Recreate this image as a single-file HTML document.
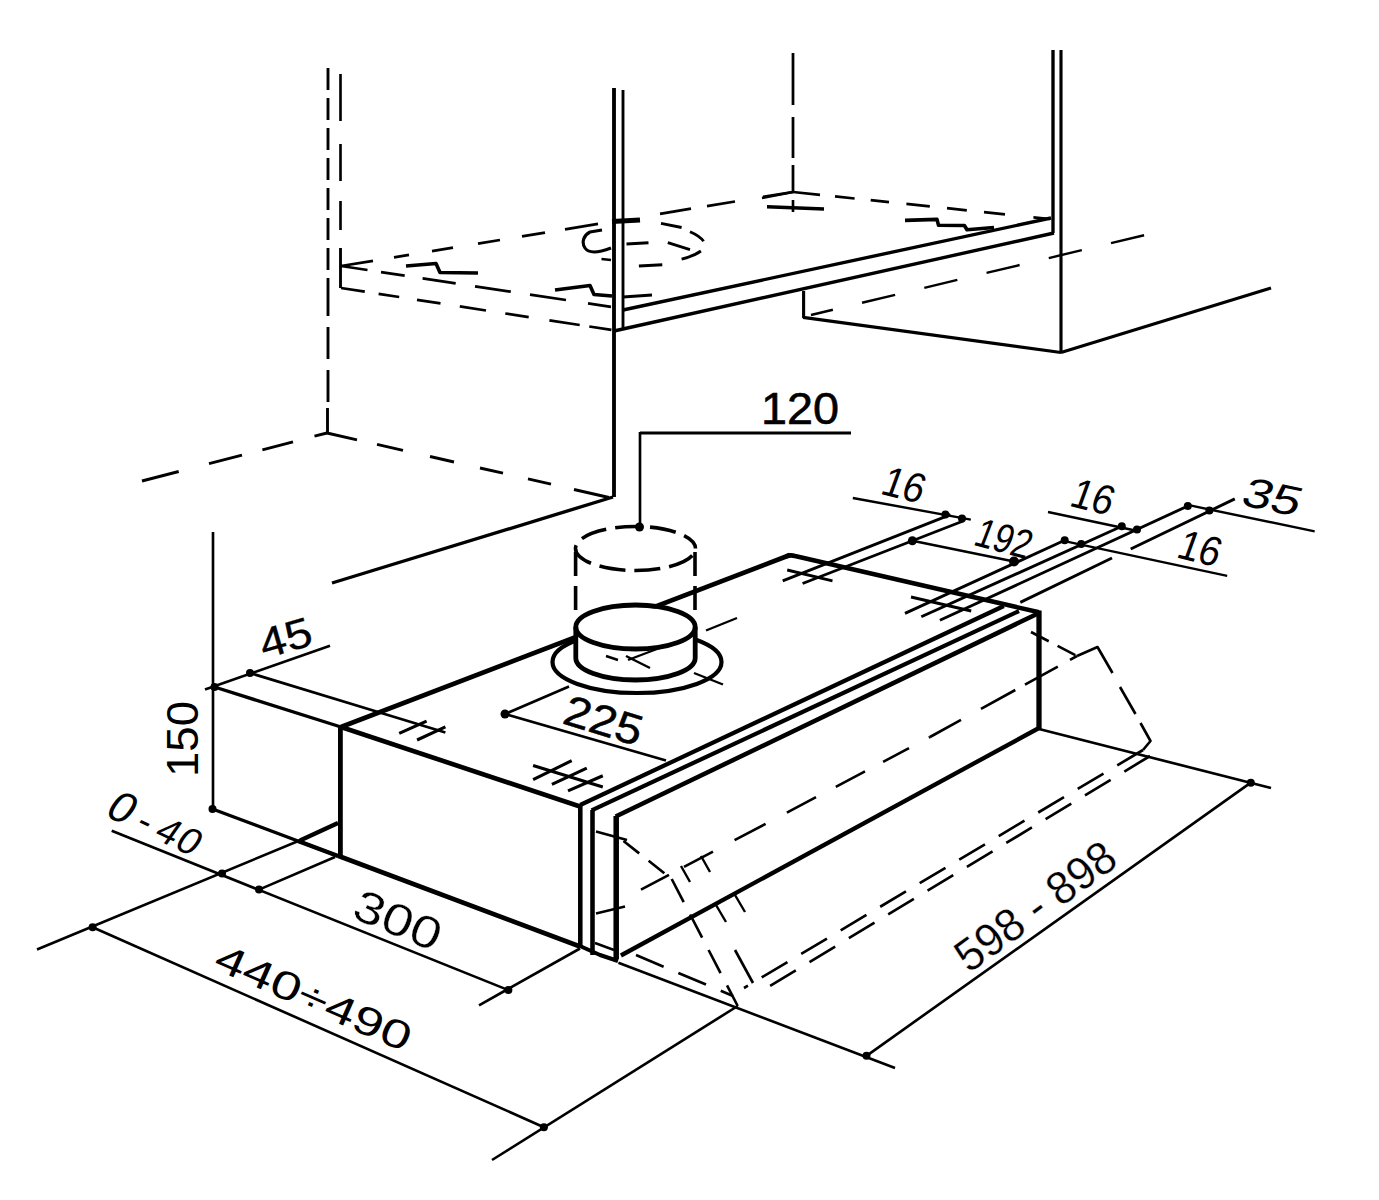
<!DOCTYPE html>
<html lang="en">
<head>
<meta charset="utf-8">
<title>Hood installation dimensions</title>
<style>
html,body{margin:0;padding:0;background:#fff;}
body{width:1379px;height:1200px;overflow:hidden;}
svg{display:block;}
svg line,svg path,svg ellipse{stroke:#000;fill:none;}
svg text{font-family:"Liberation Sans",sans-serif;fill:#000;stroke:none;}
</style>
</head>
<body>
<svg width="1379" height="1200" viewBox="0 0 1379 1200">
<rect x="0" y="0" width="1379" height="1200" fill="#fff" stroke="none"/>
<line x1="328" y1="68" x2="328" y2="290" stroke-width="2.88" stroke-dasharray="22 8"/>
<line x1="328" y1="290" x2="328" y2="408" stroke-width="2.88" stroke-dasharray="32 11" stroke-dashoffset="6"/>
<line x1="327.5" y1="408" x2="327.5" y2="434" stroke-width="2.88"/>
<path d="M340.5 74V121M340.5 144V181M340.5 201V230" stroke-width="2.64" stroke-linejoin="round"/>
<line x1="340.5" y1="248" x2="340.5" y2="288" stroke-width="2.88"/>
<path d="M327 433.0L314.5 436.2M293 441.8L262.4 449.8M242 455.1L209 463.6M178.7 471.5L142 481.0" stroke-width="2.88" stroke-linejoin="round"/>
<path d="M327 433.0L357 439.9M377 444.4L403 450.4M430 456.5L454 462.0M480 468.0L503 473.2M528 478.9L551 484.2M574 489.5L609 497.5" stroke-width="2.88" stroke-linejoin="round"/>
<line x1="614" y1="88" x2="614" y2="497" stroke-width="3.84"/>
<line x1="623" y1="90" x2="623" y2="330" stroke-width="2.88"/>
<line x1="613" y1="497" x2="332" y2="583" stroke-width="3.36"/>
<line x1="1053" y1="50" x2="1053" y2="233" stroke-width="3.36"/>
<line x1="1061" y1="50" x2="1061" y2="353" stroke-width="3.12"/>
<path d="M793 53V105M793 117V158M793 165V192" stroke-width="2.76" stroke-linejoin="round"/>
<path d="M341 266.0L373 260.8M394 257.3L409 254.9M432 251.1L453 247.7M478 243.6L500 240.0M522 236.4L545 232.6M565 229.3L598 223.9M660 213.8L691 208.7M707 206.1L735 201.5M763 196.9L793 192.0" stroke-width="2.76" stroke-linejoin="round"/>
<path d="M793 192.0L820 194.8M835 196.4L854.6 198.5M870.7 200.2L889 202.1M906.4 203.9L929.8 206.4M947 208.2L966.8 210.3M984 212.1L1005 214.3M1033.4 217.3L1050 219.0" stroke-width="2.76" stroke-linejoin="round"/>
<path d="M341 266.0L367.5 270.0M381 272.1L404.7 275.6M422.6 278.3L455.7 283.4M475 286.3L510.8 291.7M530 294.6L566 300.0M588 303.4L611 306.8" stroke-width="2.76" stroke-linejoin="round"/>
<path d="M341 288.0L364.8 291.7M378.6 293.8L399.2 297.0M417 299.8L440.5 303.4M459.8 306.4L486 310.5M505.3 313.5L528.7 317.1M549.4 320.3L579.7 325.0M589.3 326.5L611.4 329.9" stroke-width="2.76" stroke-linejoin="round"/>
<line x1="623" y1="310" x2="1051" y2="218" stroke-width="3.36"/>
<line x1="614" y1="331" x2="1054" y2="233" stroke-width="3.36"/>
<line x1="623" y1="297" x2="652" y2="295" stroke-width="3.12"/>
<path d="M602 230 L590 232 C584 235 581 242 585 248 C589 254 598 253 611 248" stroke-width="3.12" stroke-linejoin="round"/>
<path d="M601.5 259 L611 260" stroke-width="2.64" stroke-linejoin="round"/>
<path d="M661 223.4 L681.6 227.5 M690 231.7 Q700 236 703.6 241.3 M667.8 242.7 L690 249.6 M626.5 244 L648.5 242.7 M681.6 259.2 Q694 256 700.9 251 M638.9 266 L662.3 264.7" stroke-width="2.88" stroke-linejoin="round"/>
<line x1="612" y1="221.5" x2="640" y2="220" stroke-width="4.8"/>
<path d="M406 266 L436 263.5 L440 272.5 L478 273" stroke-width="3.6" stroke-linejoin="round"/>
<path d="M555 290 L590 285.5 L594 294.5 L612 296" stroke-width="3.6" stroke-linejoin="round"/>
<line x1="767" y1="206.8" x2="824" y2="209" stroke-width="3.6"/>
<line x1="793" y1="200" x2="793" y2="212" stroke-width="2.64"/>
<line x1="762" y1="198" x2="793" y2="192" stroke-width="2.64"/>
<path d="M905 220.4 L937 219.4 L938.5 225.3 L964.4 225.5 L967 229.8 L994 227.5" stroke-width="3.6" stroke-linejoin="round"/>
<line x1="803.6" y1="291" x2="803.6" y2="318" stroke-width="3.12"/>
<line x1="803" y1="317.4" x2="1061" y2="352.5" stroke-width="3.12"/>
<line x1="1061" y1="352.5" x2="1271" y2="288" stroke-width="3.12"/>
<line x1="811" y1="315" x2="1145" y2="235" stroke-width="2.4" stroke-dasharray="34 30" stroke-dashoffset="11.5"/>
<line x1="640" y1="433" x2="851" y2="433" stroke-width="2.88"/>
<line x1="640" y1="432" x2="640" y2="527" stroke-width="2.64"/>
<circle cx="639.5" cy="527" r="4.5" fill="#000" stroke="none"/>
<line x1="341" y1="727" x2="790" y2="555" stroke-width="4.8"/>
<path d="M786 556.5 Q790 554.5 795 556 L1039 612.3" stroke-width="4.56" stroke-linejoin="round"/>
<line x1="341" y1="727" x2="580" y2="806.5" stroke-width="4.68"/>
<line x1="340.4" y1="725.5" x2="340.4" y2="857" stroke-width="4.8"/>
<line x1="580.3" y1="805" x2="580.3" y2="947" stroke-width="4.56"/>
<line x1="338" y1="855.7" x2="580" y2="946.5" stroke-width="4.68"/>
<line x1="592.5" y1="810" x2="592.5" y2="955" stroke-width="4.56"/>
<line x1="616.2" y1="816" x2="616.2" y2="959" stroke-width="5.52"/>
<path d="M580 946 L600 955 L618 961" stroke-width="4.08" stroke-linejoin="round"/>
<path d="M596 831.5 L627 840 M596 913.5 L625 906.5 M595 943 L614 950" stroke-width="2.4" stroke-linejoin="round"/>
<line x1="580.2" y1="805" x2="1003.8" y2="606" stroke-width="4.2"/>
<line x1="591.6" y1="810.4" x2="1019" y2="611" stroke-width="4.2"/>
<line x1="615.7" y1="816.5" x2="1039" y2="613" stroke-width="4.56"/>
<line x1="1039" y1="610.5" x2="1039" y2="729" stroke-width="5.28"/>
<line x1="620.9" y1="955.5" x2="1039" y2="728" stroke-width="4.32"/>
<ellipse cx="637" cy="662" rx="84.5" ry="31" stroke-width="4.2"/>
<path d="M575.6 627 V658 A60 22 0 0 0 695 658 V627 A60 22 0 0 0 575.6 627Z" stroke-width="0.12" stroke-linejoin="round" style="fill:#fff"/>
<line x1="737" y1="618" x2="706" y2="630.5" stroke-width="2.4"/>
<line x1="663.5" y1="646.5" x2="628" y2="660" stroke-width="2.4"/>
<path d="M626 656 L650 668 M618 660 L 606 656" stroke-width="2.4" stroke-linejoin="round"/>
<ellipse cx="635.5" cy="627" rx="59.7" ry="22" stroke-width="4.8"/>
<path d="M575.8 627 V658 A59.7 22 0 0 0 695.2 658 V627" stroke-width="4.8" stroke-linejoin="round"/>
<line x1="694" y1="673" x2="723" y2="684.5" stroke-width="2.4"/>
<ellipse cx="635.5" cy="548.5" rx="60" ry="22" stroke-width="3.6" stroke-dasharray="26 9" stroke-dashoffset="-8"/>
<line x1="575.6" y1="552" x2="575.6" y2="612" stroke-width="3.6" stroke-dasharray="24 10"/>
<line x1="695" y1="552" x2="695" y2="612" stroke-width="3.6" stroke-dasharray="24 10"/>
<line x1="505" y1="714" x2="569" y2="686.5" stroke-width="2.64"/>
<line x1="505" y1="714" x2="666" y2="760.5" stroke-width="2.64"/>
<circle cx="505" cy="714" r="4.5" fill="#000" stroke="none"/>
<path d="M250 673L381.3 713L445.4 732.5" stroke-width="2.76" stroke-linejoin="round"/>
<path d="M399.2 733.4L426.6 721.1M417.1 740L445.4 726.8" stroke-width="3.12" stroke-linejoin="round"/>
<path d="M533.1 765.4L602.8 787.1M533.1 779.6L571.7 760.7M551.9 784.3L586.8 768.2M568 790.9L602.8 775.8" stroke-width="3.12" stroke-linejoin="round"/>
<line x1="787.2" y1="570" x2="832.5" y2="580.8" stroke-width="2.88"/>
<line x1="911" y1="597" x2="971.2" y2="611" stroke-width="2.88"/>
<path d="M1077 656.0L1070 659.9M1057.8 666.6L1025 684.7M1015.3 690.0L981 708.9M961 719.9L930 737.0" stroke-width="2.64" stroke-linejoin="round"/>
<path d="M930 737.0L928.8 737.6M909 748.1L883.1 761.8M865 771.3L835.8 786.8M816 797.2L786.9 812.6M765.6 823.8L734.6 840.2M713 851.6L684 866.9M669 874.9L641 889.6" stroke-width="2.64" stroke-linejoin="round"/>
<path d="M623.5 841 L671.7 879" stroke-width="2.64" stroke-linejoin="round" stroke-dasharray="20 12"/>
<path d="M671.7 879 L737.7 1006" stroke-width="2.64" stroke-linejoin="round" stroke-dasharray="26 14"/>
<path d="M636 955 L733 996" stroke-width="2.64" stroke-linejoin="round" stroke-dasharray="30 16"/>
<path d="M1031 632 L1077 656" stroke-width="2.64" stroke-linejoin="round" stroke-dasharray="20 10"/>
<path d="M1077 656 L1097.5 647 L1112.5 673 M1120 687 L1135.5 714 M1140.5 723 L1150.5 741 L1143 750" stroke-width="2.64" stroke-linejoin="round"/>
<line x1="1143" y1="750" x2="744" y2="988" stroke-width="2.64" stroke-dasharray="30 16"/>
<line x1="1150" y1="756" x2="760" y2="992" stroke-width="2.64" stroke-dasharray="30 16"/>
<line x1="735" y1="950" x2="753" y2="983" stroke-width="2.64"/>
<path d="M681 866 L690 882 M701 856 L710 872 M716 905 L726 922 M735 895 L745 912" stroke-width="2.4" stroke-linejoin="round"/>
<line x1="1039" y1="729" x2="1271" y2="788" stroke-width="2.64"/>
<line x1="618.4" y1="962.7" x2="895" y2="1068" stroke-width="2.64"/>
<line x1="737.7" y1="1006" x2="492" y2="1160" stroke-width="2.64"/>
<line x1="866.5" y1="1055.8" x2="1250.8" y2="782.7" stroke-width="2.64"/>
<circle cx="1250.8" cy="782.7" r="4" fill="#000" stroke="none"/>
<circle cx="866.5" cy="1055.8" r="4" fill="#000" stroke="none"/>
<circle cx="543.9" cy="1127.2" r="4" fill="#000" stroke="none"/>
<circle cx="508.4" cy="990.1" r="4" fill="#000" stroke="none"/>
<line x1="213" y1="532" x2="213" y2="809" stroke-width="2.64"/>
<circle cx="214.5" cy="687" r="4" fill="#000" stroke="none"/>
<circle cx="212.5" cy="809" r="4" fill="#000" stroke="none"/>
<circle cx="250" cy="673" r="4" fill="#000" stroke="none"/>
<line x1="205" y1="689.5" x2="330" y2="645.7" stroke-width="2.64"/>
<line x1="214.5" y1="687" x2="341" y2="727" stroke-width="3.36"/>
<line x1="212.5" y1="809" x2="338" y2="856" stroke-width="3.36"/>
<line x1="298" y1="841" x2="338" y2="856" stroke-width="4.32"/>
<line x1="338" y1="823" x2="300" y2="840.5" stroke-width="4.2"/>
<line x1="302" y1="839.5" x2="37" y2="949.5" stroke-width="2.64"/>
<circle cx="222" cy="873.4" r="4" fill="#000" stroke="none"/>
<circle cx="92.6" cy="927.2" r="4" fill="#000" stroke="none"/>
<circle cx="259" cy="889.6" r="4" fill="#000" stroke="none"/>
<line x1="259" y1="889.6" x2="335" y2="857" stroke-width="2.64"/>
<line x1="111.7" y1="830.8" x2="508.4" y2="990.1" stroke-width="2.64"/>
<line x1="479" y1="1005.3" x2="580" y2="948.5" stroke-width="2.64"/>
<line x1="92.6" y1="927.2" x2="543.9" y2="1127.2" stroke-width="2.64"/>
<line x1="782.7" y1="580.8" x2="950.5" y2="514.6" stroke-width="2.88"/>
<line x1="802.6" y1="583.5" x2="963.2" y2="521" stroke-width="2.88"/>
<line x1="852.8" y1="498" x2="970.8" y2="519.6" stroke-width="2.4"/>
<circle cx="945.4" cy="514.6" r="4" fill="#000" stroke="none"/>
<circle cx="962" cy="518.4" r="4" fill="#000" stroke="none"/>
<line x1="912.4" y1="540.7" x2="1014" y2="561.5" stroke-width="2.4"/>
<circle cx="912.4" cy="540.7" r="4.5" fill="#000" stroke="none"/>
<circle cx="1014" cy="561.5" r="5" fill="#000" stroke="none"/>
<line x1="905" y1="613.4" x2="1064.7" y2="540.3" stroke-width="2.88"/>
<line x1="921.3" y1="616.8" x2="1121.8" y2="526.3" stroke-width="2.88"/>
<line x1="939.9" y1="620.3" x2="1187.8" y2="506" stroke-width="2.88"/>
<line x1="1020.3" y1="602.4" x2="1112" y2="558" stroke-width="2.88"/>
<line x1="1130.7" y1="549" x2="1234.8" y2="498.9" stroke-width="2.88"/>
<line x1="1048" y1="512" x2="1140" y2="531.5" stroke-width="2.4"/>
<line x1="1061" y1="540.3" x2="1227.2" y2="575.8" stroke-width="2.4"/>
<line x1="1186.5" y1="504.7" x2="1314.7" y2="531.4" stroke-width="2.4"/>
<circle cx="1064.7" cy="540.3" r="4" fill="#000" stroke="none"/>
<circle cx="1081.2" cy="544" r="4" fill="#000" stroke="none"/>
<circle cx="1121.8" cy="526.3" r="4" fill="#000" stroke="none"/>
<circle cx="1137" cy="529.5" r="4" fill="#000" stroke="none"/>
<circle cx="1187.8" cy="506" r="4" fill="#000" stroke="none"/>
<circle cx="1209.4" cy="510.6" r="4" fill="#000" stroke="none"/>
<text transform="translate(761 424) rotate(0)" font-size="44" textLength="78" lengthAdjust="spacingAndGlyphs" style="stroke:#000;stroke-width:0.6px">120</text>
<text transform="translate(879 493.5) rotate(14) skewX(-6)" font-size="42" textLength="42" lengthAdjust="spacingAndGlyphs">16</text>
<text transform="translate(972 544.5) rotate(15) skewX(-6)" font-size="41" textLength="56" lengthAdjust="spacingAndGlyphs">192</text>
<text transform="translate(1068 505.5) rotate(14) skewX(-6)" font-size="42" textLength="42" lengthAdjust="spacingAndGlyphs">16</text>
<text transform="translate(1175 557) rotate(14) skewX(-6)" font-size="42" textLength="42" lengthAdjust="spacingAndGlyphs">16</text>
<text transform="translate(1239 504.5) rotate(12) skewX(-10)" font-size="42" textLength="58" lengthAdjust="spacingAndGlyphs">35</text>
<text transform="translate(264 659) rotate(-16)" font-size="42" textLength="53" lengthAdjust="spacingAndGlyphs" style="stroke:#000;stroke-width:0.3px">45</text>
<text transform="translate(198 777) rotate(-90)" font-size="45" textLength="76" lengthAdjust="spacingAndGlyphs">150</text>
<text transform="translate(561 723) rotate(17)" font-size="43" textLength="80" lengthAdjust="spacingAndGlyphs" style="stroke:#000;stroke-width:0.5px">225</text>
<text transform="translate(103 815) rotate(25) skewX(-10)" font-size="38" letter-spacing="1.5"><tspan font-size="44">0</tspan><tspan dx="7">-</tspan><tspan dx="7">40</tspan></text>
<text transform="translate(350 917) rotate(22.5)" font-size="45" textLength="91" lengthAdjust="spacingAndGlyphs" style="stroke:#fff;stroke-width:0.3px">300</text>
<text transform="translate(212 968) rotate(23.7)" font-size="40" textLength="210" lengthAdjust="spacingAndGlyphs">440÷490</text>
<text transform="translate(969 974) rotate(-36)" font-size="46" textLength="187" lengthAdjust="spacingAndGlyphs" style="stroke:#fff;stroke-width:0.3px">598 - 898</text>
</svg>
</body>
</html>
